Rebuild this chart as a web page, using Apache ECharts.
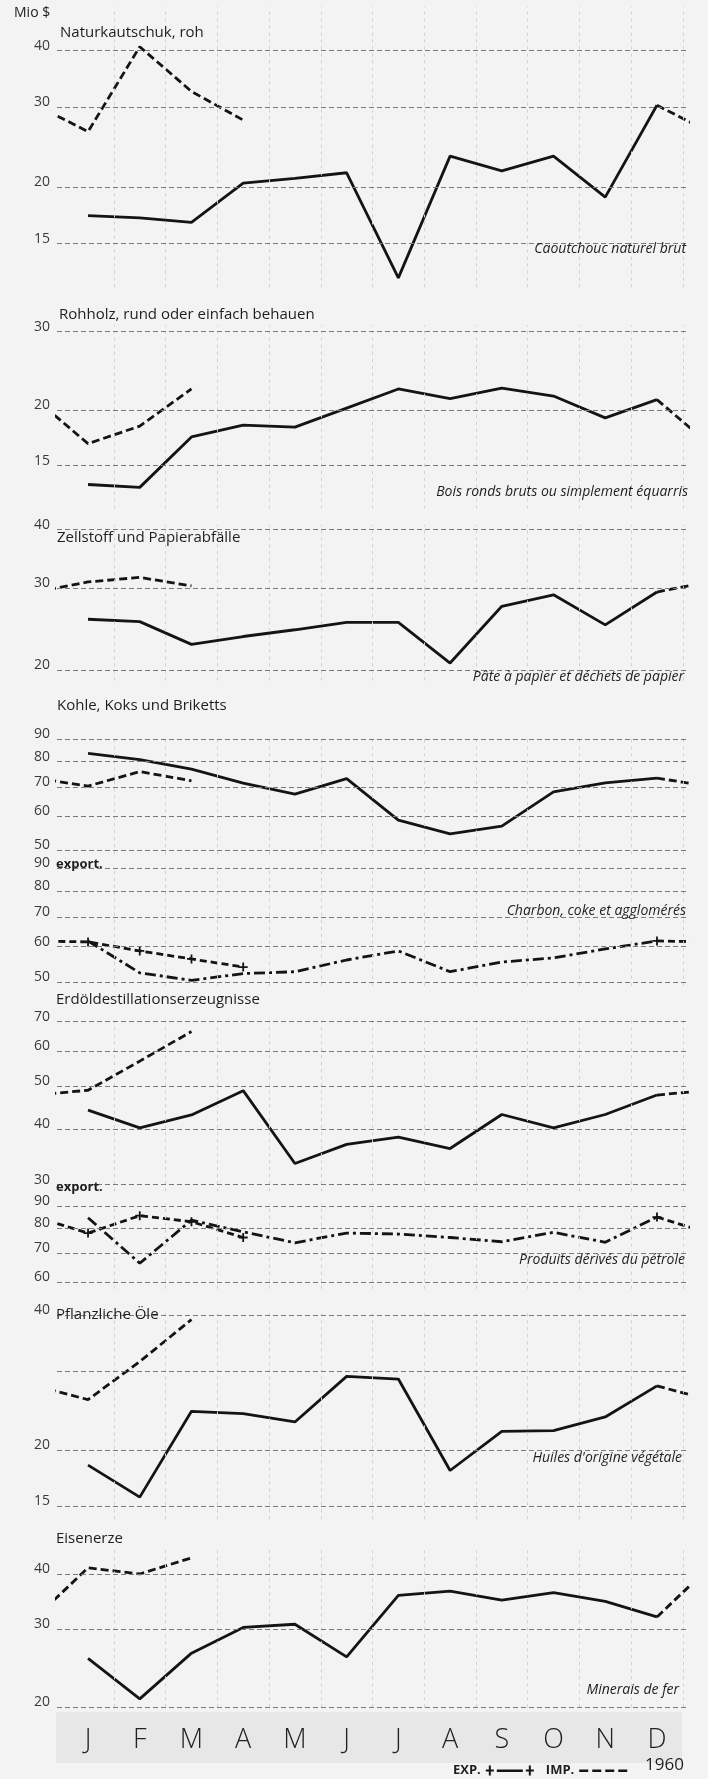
<!DOCTYPE html>
<html><head><meta charset="utf-8">
<script src="https://cdn.jsdelivr.net/npm/echarts@6/dist/echarts.min.js"></script>
<style>html,body{margin:0;padding:0;background:#f3f3f3}#c{width:708px;height:1779px}</style>
</head><body><div id="c"></div>
<script>
// ---------- data (Mio $) ----------
const months = ['J','F','M','A','M','J','J','A','S','O','N','D'];

const rubberImp59 = [17.3, 17.1, 16.7, 20.4, 20.9, 21.5, 12.6, 23.4, 21.7, 23.4, 19.0, 30.3];
const rubberImp60 = [26.5, 40.8, 32.5, 28.1];
const rubberTicks = [40, 30, 20, 15];

const woodImp59 = [13.6, 13.4, 17.4, 18.5, 18.3, 20.2, 22.3, 21.2, 22.4, 21.5, 19.2, 21.1];
const woodImp60 = [16.8, 18.4, 22.3];
const woodTicks = [30, 20, 15];

const pulpImp59 = [25.7, 25.4, 22.7, 23.6, 24.4, 25.3, 25.3, 20.7, 27.4, 29.0, 25.0, 29.4];
const pulpImp60 = [30.9, 31.6, 30.3];
const pulpTicks = [40, 30, 20];

const coalImp59 = [83.6, 80.9, 76.9, 71.4, 67.4, 73.1, 58.7, 54.6, 56.9, 68.2, 71.5, 73.3];
const coalImp60 = [70.3, 75.9, 72.3];
const coalImpTicks = [90, 80, 70, 60, 50];

const coalExp59 = [61.8, 52.4, 50.4, 52.2, 52.7, 56.0, 58.7, 52.7, 55.4, 56.6, 59.3, 61.8];
const coalExp60 = [61.5, 58.7, 56.3, 54.0];
const coalExpTicks = [90, 80, 70, 60, 50];

const oilImp59 = [44.2, 40.3, 43.1, 48.9, 33.5, 37.0, 38.4, 36.2, 43.2, 40.3, 43.2, 47.8];
const oilImp60 = [49.0, 57.0, 66.5];
const oilImpTicks = [70, 60, 50, 40, 30];

const oilExp59 = [84.5, 66.4, 83.4, 78.4, 74.0, 77.9, 77.5, 76.1, 74.4, 78.2, 74.2, 84.8];
const oilExp60 = [77.9, 85.4, 82.7, 76.1];
const oilExpTicks = [90, 80, 70, 60];

const vegImp59 = [18.5, 15.7, 24.4, 24.1, 23.1, 29.2, 28.8, 18.0, 22.0, 22.1, 23.7, 27.8];
const vegImp60 = [25.9, 31.5, 39.1];
const vegTicks = [40, 30, 20, 15];
const vegTickLabels = ['40', '', '20', '15'];

const oreImp59 = [25.8, 20.9, 26.5, 30.3, 30.8, 26.0, 35.8, 36.6, 34.9, 36.3, 34.7, 32.0];
const oreImp60 = [41.3, 40.0, 43.5];
const oreTicks = [40, 30, 20];

// ---------- styling / layout ----------
const FONT = '"Open Sans", "DejaVu Sans", sans-serif';
const INK = '#141414';
const PLUS = 'path://M4,0h2v4h4v2h-4v4h-2v-4h-4v-2h4z';
const ICON_EXP = 'path://M0,4h8v2h-8z M3,0h2v10h-2z M11,4h26v2.4h-26z M40,4h8v2h-8z M43,0h2v10h-2z';
const ICON_IMP = 'path://M0,0h0.01v0.01h-0.01z M0,4h9v2.4h-9z M13,4h9v2.4h-9z M26,4h9v2.4h-9z M39,4h9v2.4h-9z M47.99,9.99h0.01v0.01h-0.01z';
const LW = 2.8;

const panels = [
  {top: 6.7,    height: 280.8, min: 12, max: 50, imp59: rubberImp59, imp60: rubberImp60, ticks: rubberTicks},
  {top: 325.3,  height: 183.4, min: 12, max: 31, imp59: woodImp59, imp60: woodImp60, ticks: woodTicks},
  {top: 524.7,  height: 155.7, min: 19, max: 41, imp59: pulpImp59, imp60: pulpImp60, ticks: pulpTicks},
  {top: 737.3,  height: 117.0, min: 49, max: 91, imp59: coalImp59, imp60: coalImp60, ticks: coalImpTicks},
  {top: 866.2,  height: 119.6, min: 49, max: 91, exp59: coalExp59, exp60: coalExp60, ticks: coalExpTicks},
  {top: 1016.2, height: 175.0, min: 29, max: 72, imp59: oilImp59, imp60: oilImp60, ticks: oilImpTicks},
  {top: 1203.7, height: 85.1,  min: 58, max: 91, exp59: oilExp59, exp60: oilExp60, ticks: oilExpTicks},
  {top: 1310.3, height: 209.1, min: 14, max: 41, imp59: vegImp59, imp60: vegImp60, ticks: vegTicks, labels: vegTickLabels},
  {top: 1547.1, height: 160.2, min: 20, max: 46, imp59: oreImp59, imp60: oreImp60, ticks: oreTicks}
];

const grids = [], xAxes = [], yAxes = [], series = [];

function gridMarks(p) {
  const verticals = months.map((m, i) => ({
    xAxis: i + 0.5, label: {show: false},
    lineStyle: {color: '#d0d0d0', width: 1, type: [3, 4]}
  }));
  const horizontals = p.ticks.map((v, i) => ({
    yAxis: v, name: p.labels ? p.labels[i] : String(v)
  }));
  return {
    silent: true, symbol: ['none', 'none'], animation: false,
    lineStyle: {color: '#7a7a7a', width: 1, type: [5, 3]},
    label: {show: true, position: 'start', distance: 7, formatter: '{b}',
            color: '#3a3a3a', fontSize: 14, fontFamily: FONT,
            verticalAlign: 'bottom', lineHeight: 10},
    emphasis: {disabled: true},
    data: verticals.concat(horizontals)
  };
}

panels.forEach((p, g) => {
  grids.push({left: 57, right: 20, top: p.top, height: p.height});
  xAxes.push({
    type: 'value', gridIndex: g, min: -0.6, max: 11.6, interval: 0.2,
    axisLine: {show: false}, axisTick: {show: false}, splitLine: {show: false},
    axisLabel: {
      show: g === panels.length - 1, margin: 20, fontSize: 27, color: '#222',
      fontFamily: FONT, fontWeight: 300,
      formatter: v => {
        const r = Math.round(v);
        return (Math.abs(v - r) < 1e-6 && r >= 0 && r < months.length) ? months[r] : '';
      }
    }
  });
  yAxes.push({type: 'log', logBase: 10, gridIndex: g, min: p.min, max: p.max, show: false});

  const base = {type: 'line', xAxisIndex: g, yAxisIndex: g, clip: true, silent: true,
                animation: false, emphasis: {disabled: true}};
  if (p.imp59) {
    series.push(Object.assign({}, base, {
      name: 'Einfuhr 1959', data: p.imp59.map((v, i) => [i, v]), showSymbol: false, symbol: 'none',
      lineStyle: {color: INK, width: LW}, z: 3, markLine: gridMarks(p)
    }));
    const dashed = {name: 'IMP.', showSymbol: false, symbol: 'none', itemStyle: {color: INK},
                    lineStyle: {color: INK, width: LW, type: [8, 4]}, z: 3};
    series.push(Object.assign({}, base, dashed, {
      data: [[-1, p.imp59[11]]].concat(p.imp60.map((v, i) => [i, v]))
    }));
    series.push(Object.assign({}, base, dashed, {
      data: [[11, p.imp59[11]], [12, p.imp60[0]]]
    }));
  } else {
    series.push(Object.assign({}, base, {
      name: 'Ausfuhr 1959', data: p.exp59.map((v, i) => [i, v]), showSymbol: false, symbol: 'none',
      lineStyle: {color: INK, width: LW, type: [11, 4, 3, 4]}, z: 3, markLine: gridMarks(p)
    }));
    const plus = {name: 'EXP.', showSymbol: true, symbol: PLUS, symbolSize: 9,
                  itemStyle: {color: INK}, lineStyle: {color: INK, width: LW, type: [7, 4]}, z: 4};
    series.push(Object.assign({}, base, plus, {
      data: [[-1, p.exp59[11]]].concat(p.exp60.map((v, i) => [i, v]))
    }));
    series.push(Object.assign({}, base, plus, {
      data: [[11, p.exp59[11]], [12, p.exp60[0]]]
    }));
  }
});

const T = (text, left, top, extra) => Object.assign({
  text, left, top, padding: 0,
  textStyle: {fontFamily: FONT, fontSize: 15, fontWeight: 'normal', color: '#1e1e1e'}
}, extra || {});
const C = (text, right, top) => ({
  text, right, top, padding: 0,
  textStyle: {fontFamily: FONT, fontSize: 14, fontWeight: 'normal', fontStyle: 'italic', color: '#1e1e1e'}
});

const titles = [
  T('Mio $', 14, 6, {textStyle: {fontFamily: FONT, fontSize: 14, fontWeight: 'normal', color: '#1e1e1e'}}),
  T('Naturkautschuk, roh', 60, 25),
  C('Caoutchouc naturel brut', 22, 242),
  T('Rohholz, rund oder einfach behauen', 59, 307),
  C('Bois ronds bruts ou simplement équarris', 20, 485),
  T('Zellstoff und Papierabfälle', 57, 530),
  C('Pâte à papier et déchets de papier', 24, 670),
  T('Kohle, Koks und Briketts', 57, 698),
  T('export.', 56, 858, {textStyle: {fontFamily: FONT, fontSize: 13, fontWeight: 'bold', color: '#1e1e1e'}}),
  C('Charbon, coke et agglomérés', 22, 904),
  T('Erdöldestillationserzeugnisse', 56, 992),
  T('export.', 56, 1181, {textStyle: {fontFamily: FONT, fontSize: 13, fontWeight: 'bold', color: '#1e1e1e'}}),
  C('Produits dérivés du pétrole', 23, 1253),
  T('Pflanzliche Öle', 56, 1307),
  C("Huiles d'origine végétale", 26, 1451),
  T('Eisenerze', 56, 1531),
  C('Minerais de fer', 29, 1683),
  T('1960', 645, 1757, {textStyle: {fontFamily: FONT, fontSize: 17, fontWeight: 'normal', color: '#1e1e1e'}})
];

const chart = echarts.init(document.getElementById('c'), null, {renderer: 'canvas'});
chart.setOption({
  backgroundColor: '#f3f3f3',
  animation: false,
  title: titles,
  legend: {
    data: [{name: 'EXP.', icon: ICON_EXP}, {name: 'IMP.', icon: ICON_IMP}],
    left: 448, top: 1759, align: 'right', orient: 'horizontal',
    itemWidth: 48, itemHeight: 10, itemGap: 12, selectedMode: false,
    itemStyle: {color: INK, borderWidth: 0},
    textStyle: {fontFamily: FONT, fontSize: 13, fontWeight: 'bold', color: '#1e1e1e'}
  },
  graphic: [{
    type: 'rect', left: 56, top: 1712, z: -1, silent: true,
    shape: {width: 626, height: 51}, style: {fill: '#e7e7e7'}
  }],
  grid: grids, xAxis: xAxes, yAxis: yAxes, series
});
</script></body></html>
